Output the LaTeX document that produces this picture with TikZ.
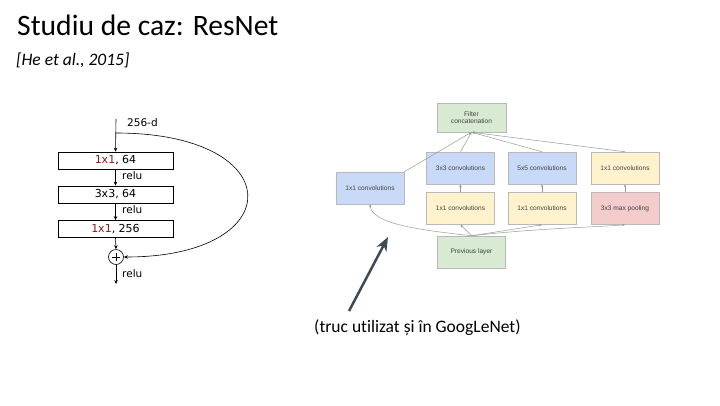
\documentclass[tikz,border=0pt]{standalone}
\usepackage{fontspec}
\setmainfont{Carlito}[Ligatures=CommonOff]
\newfontfamily\diafont{Liberation Sans}
\newfontfamily\resfont{DejaVu Sans}
\usetikzlibrary{arrows.meta}
\definecolor{darkred}{HTML}{8B1A1A}
\definecolor{bluebox}{HTML}{C9DAF8}
\definecolor{yellowbox}{HTML}{FFF2CC}
\definecolor{greenbox}{HTML}{D9EAD3}
\definecolor{pinkbox}{HTML}{F4CCCC}
\definecolor{bigarrow}{HTML}{3D4A57}
\tikzset{
  rbox/.style={draw=black, line width=0.6pt, minimum width=115pt, minimum height=17pt, inner sep=0pt, font=\resfont\fontsize{11}{12}\selectfont},
  rarrow/.style={draw=black, line width=0.6pt, -{Stealth[length=4pt,width=3.5pt]}},
  rlabel/.style={anchor=west, font=\resfont\fontsize{10.5}{11}\selectfont, inner sep=0pt},
  ibox/.style={draw=gray!55, line width=0.5pt, minimum width=68pt, minimum height=32pt, inner sep=1pt, align=center, text=black!75, font=\diafont\fontsize{6.6}{7.6}\selectfont},
  iarrow/.style={draw=gray!80, line width=0.5pt, -{Stealth[length=3pt,width=2.5pt]}}
}
\begin{document}
\begin{tikzpicture}[x=1pt,y=-1pt]
\useasboundingbox (0,0) rectangle (720,405);
% title
\node[anchor=base west, inner sep=0pt, font=\fontsize{29.6}{34}\selectfont] (title) at (17,35) {Studiu de caz: ResNet};
\node[anchor=base west, inner sep=0pt, font=\itshape\fontsize{17.5}{19}\selectfont] (cite) at (16,65) {[He et al., 2015]};
% ResNet block
\coordinate (rtop) at (116,119);
\coordinate (rsplit) at (116,133);
\node[rbox] (b1) at (115.5,160.5) {\textcolor{darkred}{1x1}, 64};
\node[rbox] (b2) at (115.5,194.5) {3x3, 64};
\node[rbox] (b3) at (115.5,229) {\textcolor{darkred}{1x1}, 256};
\node[draw=black, line width=0.6pt, circle, minimum size=15pt, inner sep=0pt] (plus) at (116,257) {};
\draw[line width=0.5pt] ([yshift=4pt]plus.center) -- ([yshift=-4pt]plus.center) ([xshift=-4pt]plus.center) -- ([xshift=4pt]plus.center);
\coordinate (rend) at (116,284);
\node[rlabel] (d256) at (127,123) {256-d};
\node[rlabel] (r1) at (122,176) {relu};
\node[rlabel] (r2) at (122,210) {relu};
\node[rlabel] (r3) at (122,274) {relu};
\draw[rarrow] (rtop) -- (b1.north);
\draw[rarrow] (b1.south) -- (b2.north);
\draw[rarrow] (b2.south) -- (b3.north);
\draw[rarrow] (b3.south) -- (plus.north);
\draw[rarrow] (plus.south) -- (rend);
\draw[rarrow] (rsplit) .. controls (290,133) and (290,257) .. (plus.east);
% Inception module
\node[ibox, fill=greenbox, minimum width=69pt, minimum height=29pt] (concat) at (471.5,117.5) {Filter\\concatenation};
\node[ibox, fill=bluebox] (c3) at (460.5,168) {3x3 convolutions};
\node[ibox, fill=bluebox] (c5) at (542,168) {5x5 convolutions};
\node[ibox, fill=yellowbox] (c1b) at (625,168) {1x1 convolutions};
\node[ibox, fill=bluebox] (c1a) at (370,188) {1x1 convolutions};
\node[ibox, fill=yellowbox] (y1) at (460.5,208.5) {1x1 convolutions};
\node[ibox, fill=yellowbox] (y2) at (542,208.5) {1x1 convolutions};
\node[ibox, fill=pinkbox] (pool) at (625,208.5) {3x3 max pooling};
\node[ibox, fill=greenbox] (prev) at (471.5,252) {Previous layer};
% bottom arrows
\draw[iarrow] (prev.north) .. controls (420,230) and (372,224) .. (c1a.south);
\draw[iarrow] (prev.north) -- (y1.south);
\draw[iarrow] (prev.north) -- (y2.south);
\draw[iarrow] (prev.north) .. controls (540,228) and (600,227) .. (pool.south);
% middle arrows
\draw[iarrow] (y1.north) -- (c3.south);
\draw[iarrow] (y2.north) -- (c5.south);
\draw[iarrow] (pool.north) -- (c1b.south);
% top arrows
\draw[iarrow] (c1a.north east) -- (concat.south);
\draw[iarrow] (c3.north) -- (concat.south);
\draw[iarrow] (c5.north) -- (concat.south);
\draw[iarrow] (c1b.north) -- (concat.south);
% big arrow and note
\coordinate (atail) at (349,311);
\coordinate (ahead) at (388,237);
\draw[draw=bigarrow, line width=2.5pt, -{Stealth[length=14pt,width=11pt]}] (atail) -- (ahead);
\node[anchor=base west, inner sep=0pt, font=\fontsize{17.5}{20}\selectfont] (note) at (314,332) {(truc utilizat și în GoogLeNet)};
\end{tikzpicture}
\end{document}
